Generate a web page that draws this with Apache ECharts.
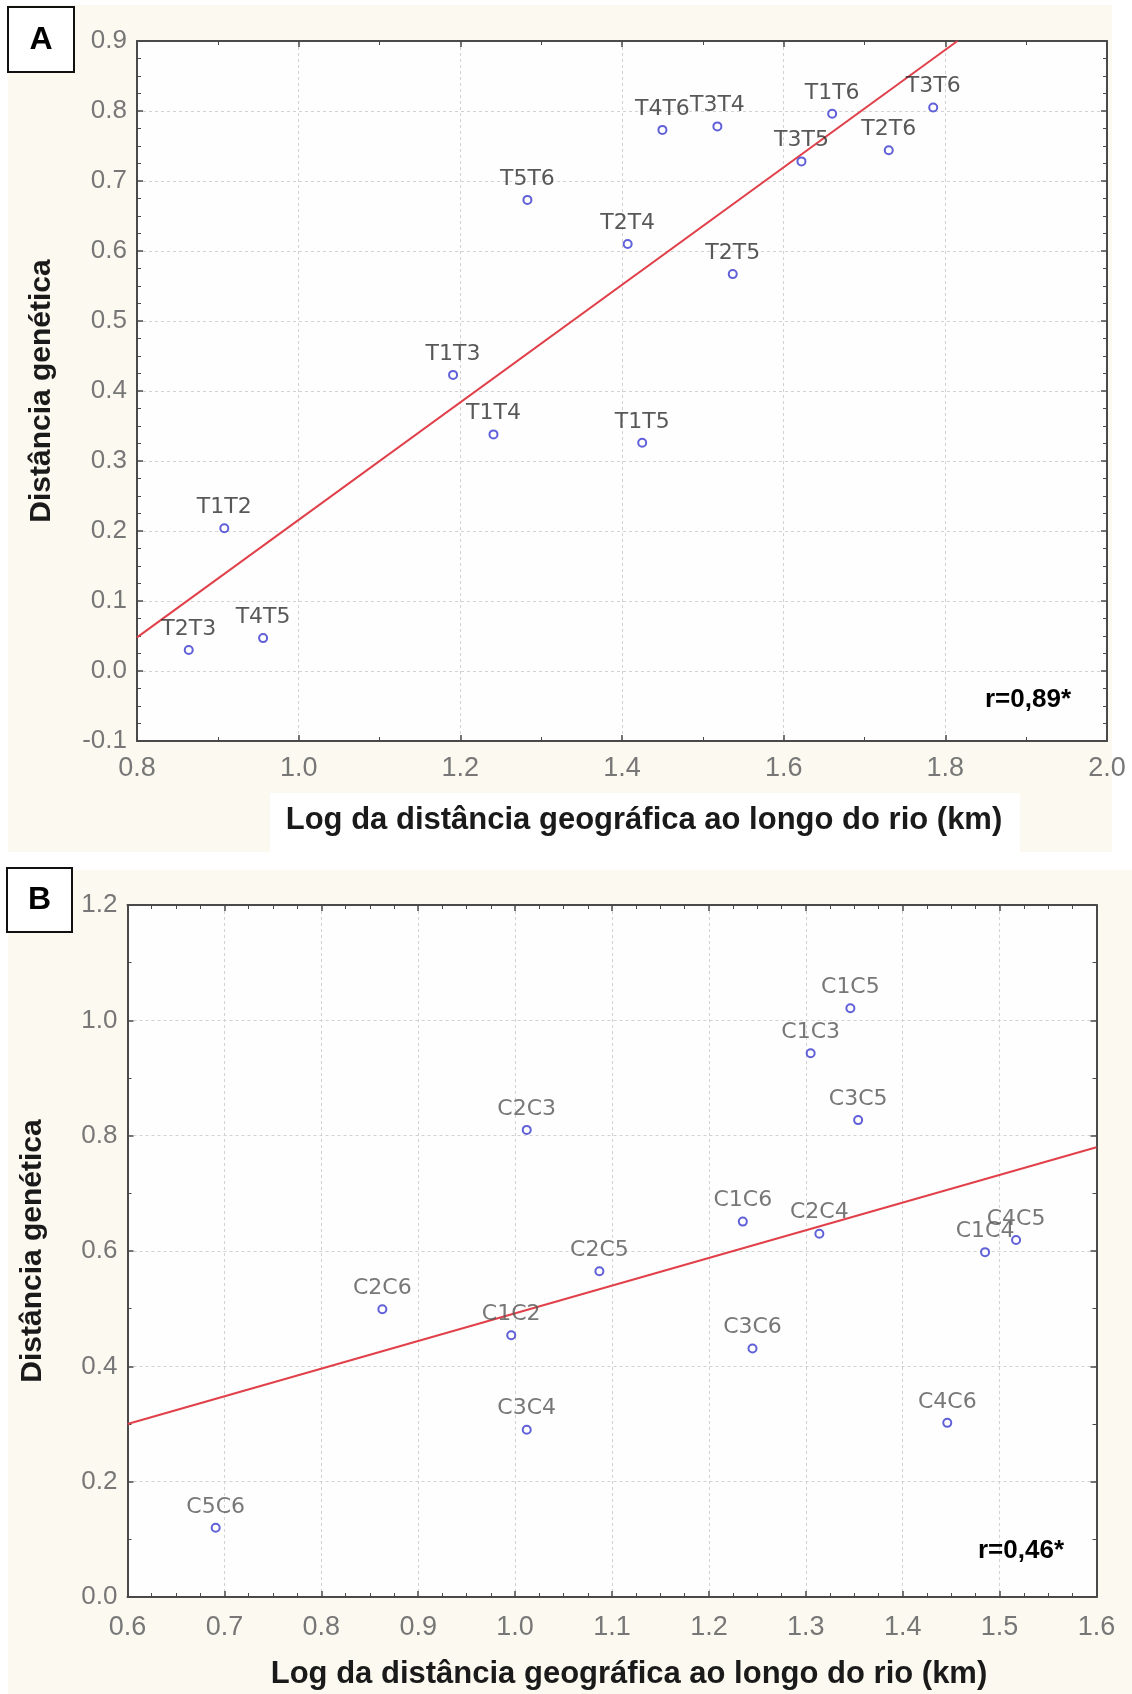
<!DOCTYPE html>
<html><head><meta charset="utf-8">
<script src="https://cdn.jsdelivr.net/npm/echarts@6/dist/echarts.min.js"></script>
<style>html,body{margin:0;padding:0;background:#fff}#c{width:1132px;height:1694px}</style>
</head><body><div id="c"></div>
<script>
// Panel A data
const namesA = ['T1T2','T2T3','T4T5','T1T3','T1T4','T5T6','T2T4','T1T5','T4T6','T3T4','T2T5','T3T5','T1T6','T2T6','T3T6'];
const xA = [0.908,0.864,0.956,1.191,1.241,1.283,1.407,1.425,1.450,1.518,1.537,1.622,1.660,1.730,1.785];
const yA = [0.204,0.030,0.047,0.423,0.338,0.673,0.610,0.326,0.773,0.778,0.567,0.728,0.796,0.744,0.805];
const fitA = [[0.8,0.048],[1.815,0.9]];
const xTicksA = {min:0.8, max:2.0, interval:0.2};
const yTicksA = {min:-0.1, max:0.9, interval:0.1};
// Panel B data
const namesB = ['C5C6','C2C6','C1C2','C3C4','C2C3','C2C5','C1C6','C3C6','C1C3','C2C4','C1C5','C3C5','C4C6','C1C4','C4C5'];
const xB = [0.691,0.863,0.996,1.012,1.012,1.087,1.235,1.245,1.305,1.314,1.346,1.354,1.446,1.485,1.517];
const yB = [0.120,0.499,0.454,0.290,0.810,0.565,0.651,0.431,0.943,0.630,1.021,0.827,0.302,0.598,0.619];
const fitB = [[0.6,0.30],[1.6,0.78]];
const xTicksB = {min:0.6, max:1.6, interval:0.1};
const yTicksB = {min:0.0, max:1.2, interval:0.2};
const xTitle = 'Log da distância geográfica ao longo do rio (km)';
const yTitle = 'Distância genética';
const rA = 'r=0,89*';
const rB = 'r=0,46*';

const chart = echarts.init(document.getElementById('c'), null, {renderer:'canvas'});
const LF = "'Liberation Sans', Arial, sans-serif";
const grids = [
  {left:137, top:41, width:970, height:700},
  {left:127.5, top:905, width:969, height:692}
];
const gridLine = {show:true, lineStyle:{color:'#d2d2d2', width:1, type:[3,3]}};
const frameLine = {show:true, onZero:false, lineStyle:{color:'#4a4a4a', width:2}};
function mainX(gi, t, minor, labMargin, nameGap, pad){
  return {type:'value', gridIndex:gi, position:'bottom', min:t.min, max:t.max, interval:t.interval,
    axisLine:frameLine, axisTick:{show:true, inside:true, length:6, lineStyle:{color:'#4a4a4a', width:1.5}},
    minorTick:{show:true, splitNumber:minor, length:4, lineStyle:{color:'#4a4a4a', width:1}},
    splitLine:gridLine,
    axisLabel:{margin:labMargin, fontFamily:LF, fontSize:27, color:'#777', formatter:v=>v.toFixed(1)},
    name:xTitle, nameLocation:'middle', nameGap:nameGap,
    nameTextStyle:{fontFamily:LF, fontWeight:'bold', fontSize:31, color:'#1a1a1a', padding:[0,0,0,pad]}};
}
function mainY(gi, t, minor){
  return {type:'value', gridIndex:gi, position:'left', min:t.min, max:t.max, interval:t.interval,
    axisLine:frameLine, axisTick:{show:true, inside:true, length:6, lineStyle:{color:'#4a4a4a', width:1.5}},
    minorTick:{show:true, splitNumber:minor, length:4, lineStyle:{color:'#4a4a4a', width:1}},
    splitLine:gridLine,
    axisLabel:{margin:10, fontFamily:LF, fontSize:26, color:'#777', formatter:v=>v.toFixed(1)},
    name:yTitle, nameLocation:'middle', nameGap:80,
    nameTextStyle:{fontFamily:LF, fontWeight:'bold', fontSize:30, color:'#1a1a1a'}};
}
function secX(gi, t, minor){
  return {type:'value', gridIndex:gi, position:'top', min:t.min, max:t.max, interval:t.interval,
    axisLine:frameLine, axisTick:{show:true, inside:true, length:6, lineStyle:{color:'#4a4a4a', width:1.5}},
    minorTick:{show:true, splitNumber:minor, length:4, lineStyle:{color:'#4a4a4a', width:1}},
    splitLine:{show:false}, axisLabel:{show:false}};
}
function secY(gi, t, minor){
  return {type:'value', gridIndex:gi, position:'right', min:t.min, max:t.max, interval:t.interval,
    axisLine:frameLine, axisTick:{show:true, inside:true, length:6, lineStyle:{color:'#4a4a4a', width:1.5}},
    minorTick:{show:true, splitNumber:minor, length:4, lineStyle:{color:'#4a4a4a', width:1}},
    splitLine:{show:false}, axisLabel:{show:false}};
}
function pts(names, xs, ys){ return names.map((n,i)=>({name:n, value:[xs[i], ys[i]]})); }
function scatter(xi, yi, data, fs, col){
  return {type:'scatter', xAxisIndex:xi, yAxisIndex:yi, data:data, symbol:'circle', symbolSize:8, z:5,
    itemStyle:{color:'#ffffff', borderColor:'#3838d0', borderWidth:2},
    label:{show:true, position:'top', distance:5, formatter:p=>p.name,
      fontFamily:"'DejaVu Sans', sans-serif", fontSize:fs, color:col}};
}
function fit(xi, yi, data){
  return {type:'line', xAxisIndex:xi, yAxisIndex:yi, data:data, symbol:'none', z:3,
    lineStyle:{color:'#e0404a', width:2}, silent:true};
}
const option = {
  backgroundColor:'#ffffff',
  animation:false,
  grid: grids.map(g=>Object.assign({show:true, backgroundColor:'#fefefe', borderWidth:0}, g)),
  xAxis:[mainX(0,xTicksA,2,14,64,44), secX(0,xTicksA,2), mainX(1,xTicksB,4,17,62,34), secX(1,xTicksB,4)],
  yAxis:[mainY(0,yTicksA,4), secY(0,yTicksA,4), mainY(1,yTicksB,2), secY(1,yTicksB,2)],
  series:[
    fit(0,0,fitA), scatter(0,0,pts(namesA,xA,yA),22,'#2e2e2e'),
    fit(2,2,fitB), scatter(2,2,pts(namesB,xB,yB),22,'#555555')
  ],
  graphic:[
    {type:'rect', z:-100, shape:{x:8, y:5, width:1104, height:847}, style:{fill:'#fcfaf0'}},
    {type:'rect', z:-99, shape:{x:270, y:793, width:750, height:59}, style:{fill:'#ffffff'}},
    {type:'rect', z:-100, shape:{x:8, y:870, width:1124, height:824}, style:{fill:'#fcfaf0'}},
    {type:'rect', z:10, shape:{x:8, y:7, width:66, height:65}, style:{fill:'#ffffff', stroke:'#111', lineWidth:2}},
    {type:'text', z:11, x:41, y:40, style:{text:'A', fontFamily:LF, fontWeight:'bold', fontSize:32, fill:'#000', align:'center', verticalAlign:'middle'}},
    {type:'rect', z:10, shape:{x:7, y:868, width:65, height:64}, style:{fill:'#ffffff', stroke:'#111', lineWidth:2}},
    {type:'text', z:11, x:39.5, y:900, style:{text:'B', fontFamily:LF, fontWeight:'bold', fontSize:32, fill:'#000', align:'center', verticalAlign:'middle'}},
    {type:'text', z:11, x:1071, y:700, style:{text:rA, fontFamily:LF, fontWeight:'bold', fontSize:26, fill:'#000', align:'right', verticalAlign:'middle'}},
    {type:'text', z:11, x:1064, y:1551, style:{text:rB, fontFamily:LF, fontWeight:'bold', fontSize:26, fill:'#000', align:'right', verticalAlign:'middle'}}
  ]
};
chart.setOption(option);
</script></body></html>
